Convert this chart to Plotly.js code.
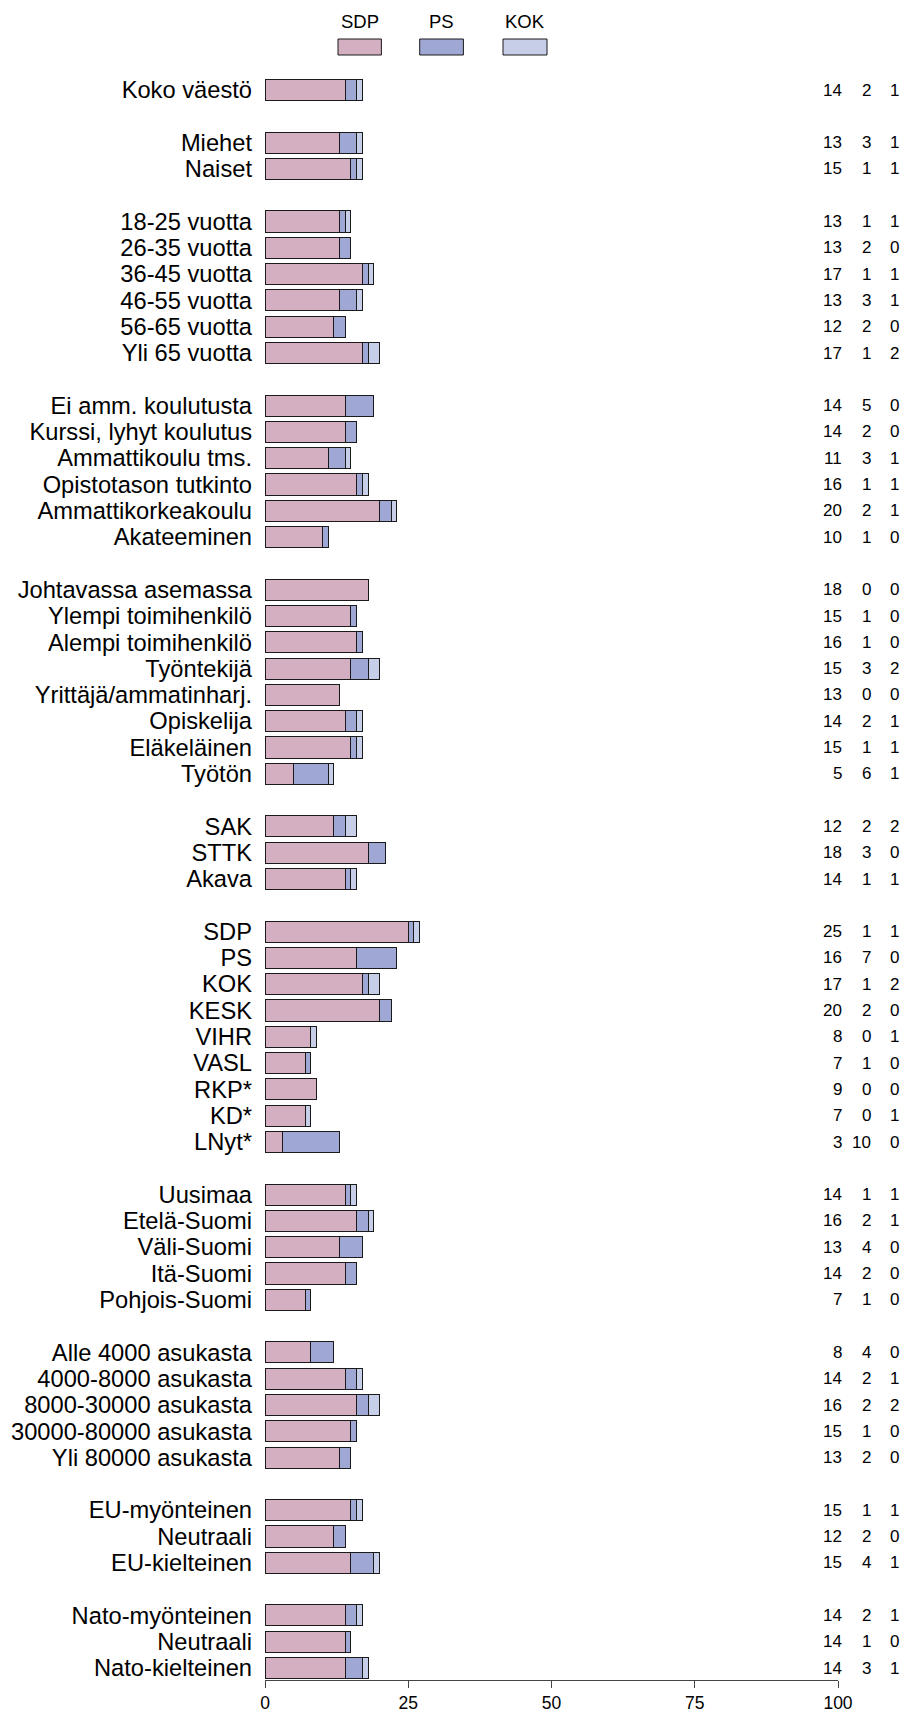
<!DOCTYPE html>
<html>
<head>
<meta charset="utf-8">
<script src="https://cdn.plot.ly/plotly-3.0.1.min.js"></script>
<style>
  html, body { margin: 0; padding: 0; background: #ffffff; }
  #chart { width: 906px; height: 1713px; }
</style>
</head>
<body>
<div id="chart"></div>
<script>
// ---------- DATA ----------
const categories = [
  "Koko väestö",
  "Miehet", "Naiset",
  "18-25 vuotta", "26-35 vuotta", "36-45 vuotta", "46-55 vuotta", "56-65 vuotta", "Yli 65 vuotta",
  "Ei amm. koulutusta", "Kurssi, lyhyt koulutus", "Ammattikoulu tms.", "Opistotason tutkinto", "Ammattikorkeakoulu", "Akateeminen",
  "Johtavassa asemassa", "Ylempi toimihenkilö", "Alempi toimihenkilö", "Työntekijä", "Yrittäjä/ammatinharj.", "Opiskelija", "Eläkeläinen", "Työtön",
  "SAK", "STTK", "Akava",
  "SDP", "PS", "KOK", "KESK", "VIHR", "VASL", "RKP*", "KD*", "LNyt*",
  "Uusimaa", "Etelä-Suomi", "Väli-Suomi", "Itä-Suomi", "Pohjois-Suomi",
  "Alle 4000 asukasta", "4000-8000 asukasta", "8000-30000 asukasta", "30000-80000 asukasta", "Yli 80000 asukasta",
  "EU-myönteinen", "Neutraali", "EU-kielteinen",
  "Nato-myönteinen", "Neutraali", "Nato-kielteinen"
];
const groupSizes = [1, 2, 6, 6, 8, 3, 9, 5, 5, 3, 3];

const sdpValues = [
  14,
  13, 15,
  13, 13, 17, 13, 12, 17,
  14, 14, 11, 16, 20, 10,
  18, 15, 16, 15, 13, 14, 15, 5,
  12, 18, 14,
  25, 16, 17, 20, 8, 7, 9, 7, 3,
  14, 16, 13, 14, 7,
  8, 14, 16, 15, 13,
  15, 12, 15,
  14, 14, 14
];
const psValues = [
  2,
  3, 1,
  1, 2, 1, 3, 2, 1,
  5, 2, 3, 1, 2, 1,
  0, 1, 1, 3, 0, 2, 1, 6,
  2, 3, 1,
  1, 7, 1, 2, 0, 1, 0, 0, 10,
  1, 2, 4, 2, 1,
  4, 2, 2, 1, 2,
  1, 2, 4,
  2, 1, 3
];
const kokValues = [
  1,
  1, 1,
  1, 0, 1, 1, 0, 2,
  0, 0, 1, 1, 1, 0,
  0, 0, 0, 2, 0, 1, 1, 1,
  2, 0, 1,
  1, 0, 2, 0, 1, 0, 0, 1, 0,
  1, 1, 0, 0, 0,
  0, 1, 2, 0, 0,
  1, 0, 1,
  1, 0, 1
];
const seriesNames = ["SDP", "PS", "KOK"];
const seriesColors = ["#d4afc1", "#9fa8d4", "#c7cee7"];
const xTickValues = [0, 25, 50, 75, 100];

// ---------- ROW POSITIONS (one blank row between groups) ----------
const rowPos = [];
{
  let r = 0;
  groupSizes.forEach((n) => {
    for (let i = 0; i < n; i++) rowPos.push(r++);
    r++; // blank row
  });
}

// ---------- GEOMETRY HELPERS ----------
const W = 906, H = 1713;
const plotL = 265.3, plotR = 838.3, plotT = 60, plotB = 1680;
const px = x => (x - plotL) / (plotR - plotL);
const py = y => (plotB - y) / (plotB - plotT);
const FONT = "Liberation Sans, Arial, Helvetica, sans-serif";

// ---------- TRACES ----------
const allValues = [sdpValues, psValues, kokValues];
const traces = allValues.map((vals, k) => ({
  type: "bar",
  orientation: "h",
  name: seriesNames[k],
  x: vals,
  y: rowPos,
  marker: { color: seriesColors[k], line: { color: "#1a1a1a", width: 1 } },
  hoverinfo: "x+name",
  showlegend: false
}));

// ---------- ANNOTATIONS ----------
const annotations = [];
const numColX = [843.8, 872.8, 901.2];
allValues.forEach((vals, k) => {
  vals.forEach((v, i) => {
    annotations.push({
      xref: "paper", yref: "y",
      x: px(numColX[k]), y: rowPos[i],
      text: String(Math.round(v)),
      showarrow: false,
      xanchor: "right", yanchor: "middle",
      font: { family: FONT, size: 17, color: "#000" }
    });
  });
});

// legend (text above swatch)
const legendBoxes = [[338.3, 381.7], [420, 463.7], [503.3, 547.3]];
const shapes = [];
legendBoxes.forEach((b, k) => {
  shapes.push({
    type: "rect", xref: "paper", yref: "paper",
    x0: px(b[0]), x1: px(b[1]), y0: py(55), y1: py(39),
    fillcolor: seriesColors[k],
    line: { color: "#1a1a1a", width: 1 }
  });
  annotations.push({
    xref: "paper", yref: "paper",
    x: px((b[0] + b[1]) / 2), y: py(21.5),
    text: seriesNames[k], showarrow: false,
    xanchor: "center", yanchor: "middle",
    font: { family: FONT, size: 18.5, color: "#000" }
  });
});

// ---------- LAYOUT ----------
const rowPitch = 26.3;
const lastRow = rowPos[rowPos.length - 1];
const layout = {
  width: W, height: H,
  paper_bgcolor: "#ffffff", plot_bgcolor: "#ffffff",
  margin: { l: plotL, r: W - plotR, t: plotT, b: H - plotB, pad: 0 },
  barmode: "stack",
  bargap: 0.2,
  showlegend: false,
  font: { family: FONT, color: "#000" },
  xaxis: {
    range: [0, 100],
    tickvals: xTickValues,
    ticktext: xTickValues.map(String),
    showgrid: false, zeroline: false,
    showline: true, linecolor: "#444", linewidth: 1,
    ticks: "outside", ticklen: 7, tickcolor: "#444", tickwidth: 1,
    ticklabelstandoff: 0,
    tickfont: { family: FONT, size: 17.5, color: "#000" },
    fixedrange: true
  },
  yaxis: {
    range: [lastRow + (plotB - (plotT + 30 + lastRow * rowPitch)) / rowPitch, -30 / rowPitch],
    tickvals: rowPos,
    ticktext: categories,
    showgrid: false, zeroline: false, showline: false,
    ticks: "",
    ticklabelstandoff: 12,
    tickfont: { family: FONT, size: 23.7, color: "#000" },
    fixedrange: true
  },
  shapes: shapes,
  annotations: annotations
};

Plotly.newPlot("chart", traces, layout, { displayModeBar: false, staticPlot: true });
</script>
</body>
</html>
